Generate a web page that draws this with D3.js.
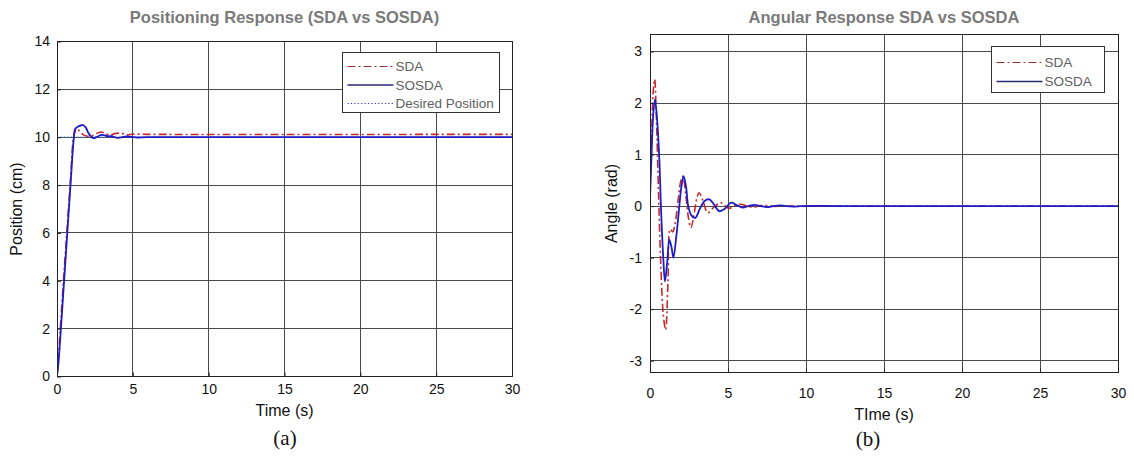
<!DOCTYPE html>
<html><head><meta charset="utf-8">
<script src="https://cdn.jsdelivr.net/npm/d3@7/dist/d3.min.js"></script>
<style>body{margin:0;background:#fff;} svg{display:block;}</style>
</head><body>
<svg id="c" width="1134" height="458"></svg>
<script>
// ---- Data ----
const posTitle = "Positioning Response (SDA vs SOSDA)";
const angTitle = "Angular Response SDA vs SOSDA";
const xTicks = [0,5,10,15,20,25,30];
const posTicks = [0,2,4,6,8,10,12,14];
const angTicks = [-3,-2,-1,0,1,2,3];

const posSdaT = [0,0.1,0.3,0.5,0.7,0.9,1.1,1.3,1.5,1.7,2.0,2.3,2.6,2.9,3.2,3.5,3.8,4.2,4.6,5,6,30];
const posSdaV = [0,0.9,2.8,4.7,6.5,8.3,10.0,10.36,10.25,10.12,10.04,10.05,10.15,10.22,10.15,10.08,10.15,10.17,10.1,10.13,10.12,10.12];
const posSosdaT = [0,0.1,0.3,0.5,0.7,0.9,1.1,1.2,1.4,1.6,1.75,1.9,2.1,2.4,2.65,2.95,3.3,3.6,4.0,4.6,5.2,6,30];
const posSosdaV = [0,0.6,2.4,4.3,6.2,8.1,9.9,10.35,10.45,10.5,10.5,10.4,10.15,9.96,10.02,10.1,10.05,10.04,9.97,10.03,9.99,10.0,10.0];
const desiredT = [0,30];
const desiredV = [10,10];

const angSdaT = [0,0.1,0.2,0.3,0.4,0.55,0.7,0.85,1.0,1.15,1.3,1.45,1.6,1.8,1.95,2.1,2.3,2.45,2.62,2.8,3.0,3.15,3.4,3.7,4.1,4.55,4.8,5.07,5.5,5.9,6.3,6.7,7.1,7.5,8,8.5,9,10,30];
const angSdaV = [0.3,1.3,2.2,2.46,1.8,0.2,-1.2,-2.1,-2.4,-1.5,-0.45,-0.5,-0.35,0.1,0.45,0.58,0.2,-0.2,-0.42,-0.2,0.15,0.26,0.1,-0.13,-0.02,0.065,0.01,-0.045,0.02,0.03,-0.01,-0.02,0.01,0.01,-0.005,0.004,0,0,0];
const angSosdaT = [0,0.1,0.2,0.32,0.45,0.6,0.7,0.85,0.96,1.1,1.24,1.38,1.5,1.7,1.88,2.0,2.15,2.3,2.45,2.65,2.9,3.2,3.5,3.8,4.1,4.45,4.8,5.2,5.55,5.95,6.3,6.7,7.1,7.5,7.9,8.3,8.7,9.2,9.7,10.5,12,30];
const angSosdaV = [0.15,1.0,1.75,2.07,1.7,0.9,0.0,-1.0,-1.46,-1.1,-0.65,-0.8,-1.0,-0.55,0.0,0.35,0.58,0.4,0.0,-0.18,-0.23,-0.05,0.1,0.13,0.03,-0.1,-0.05,0.065,0.02,-0.03,0.0,0.025,0.0,-0.02,0.0,0.015,0,-0.01,0,0.005,0,0];

const redCol = "#c8282a", blueCol = "#1c1cc8";
const svg = d3.select("#c");
const zip = (t,v) => t.map((x,i)=>[x,v[i]]);
const fmt = d => String(d);

function panel(o){
  const x = d3.scaleLinear().domain([0,30]).range([o.x0,o.x1]);
  const y = d3.scaleLinear().domain(o.yd).range([o.y1,o.y0]);
  const g = svg.append("g");
  // grid
  g.selectAll(".gx").data(xTicks.slice(1,-1)).join("line")
    .attr("x1",d=>x(d)).attr("x2",d=>x(d)).attr("y1",o.y0).attr("y2",o.y1)
    .attr("stroke","#4a4a4a").attr("stroke-width",1).attr("shape-rendering","crispEdges");
  g.selectAll(".gy").data(o.yt.filter(d=>y(d)>o.y0+1 && y(d)<o.y1-1)).join("line")
    .attr("x1",o.x0).attr("x2",o.x1).attr("y1",d=>y(d)).attr("y2",d=>y(d))
    .attr("stroke","#4a4a4a").attr("stroke-width",1).attr("shape-rendering","crispEdges");
  // clip
  const cid = "clip"+o.id;
  svg.append("clipPath").attr("id",cid).append("rect")
    .attr("x",o.x0).attr("y",o.y0).attr("width",o.x1-o.x0).attr("height",o.y1-o.y0);
  const lg = g.append("g").attr("clip-path",`url(#${cid})`);
  const line = d3.line().x(d=>x(d[0])).y(d=>y(d[1])).curve(d3.curveCatmullRom.alpha(0.5));
  o.series.forEach(s=>{
    lg.append("path").attr("d",line(zip(s.t,s.v))).attr("fill","none")
      .attr("stroke",s.c).attr("stroke-width",s.w).attr("stroke-dasharray",s.dash||null);
  });
  // box
  g.append("rect").attr("x",o.x0).attr("y",o.y0).attr("width",o.x1-o.x0).attr("height",o.y1-o.y0)
    .attr("fill","none").attr("stroke","#222").attr("stroke-width",1).attr("shape-rendering","crispEdges");
  // axes (ticks inward, labels)
  const ax = g.append("g").attr("transform",`translate(0,${o.y1})`)
    .call(d3.axisBottom(x).tickValues(xTicks).tickFormat(fmt).tickSizeInner(-4).tickSizeOuter(0).tickPadding(o.xpad));
  const ay = g.append("g").attr("transform",`translate(${o.x0},0)`)
    .call(d3.axisLeft(y).tickValues(o.yt).tickFormat(fmt).tickSizeInner(-4).tickSizeOuter(0).tickPadding(o.ypad));
  [ax,ay].forEach(a=>{
    a.select(".domain").remove();
    a.selectAll("line").attr("stroke","#222");
    a.selectAll("text").attr("font-family","Liberation Sans, Arial, sans-serif").attr("font-size",14).attr("fill","#111");
  });
  // title
  g.append("text").attr("x",(o.x0+o.x1)/2).attr("y",23).attr("text-anchor","middle")
    .attr("font-family","Liberation Sans, Arial, sans-serif").attr("font-size",16.5).attr("font-weight","bold")
    .attr("fill","#7a7a7a").text(o.title);
  // x label
  g.append("text").attr("x",(o.x0+o.x1)/2).attr("y",o.xly).attr("text-anchor","middle")
    .attr("font-family","Liberation Sans, Arial, sans-serif").attr("font-size",16).attr("fill","#111").text(o.xlabel);
  // y label
  g.append("text").attr("transform",`translate(${o.ylx},${(o.y0+o.y1)/2}) rotate(-90)`).attr("text-anchor","middle")
    .attr("font-family","Liberation Sans, Arial, sans-serif").attr("font-size",16).attr("fill","#111").text(o.ylabel);
  // caption
  g.append("text").attr("x",o.capx).attr("y",o.capy).attr("text-anchor","middle")
    .attr("font-family","Liberation Serif, Times New Roman, serif").attr("font-size",21).attr("fill","#111").text(o.cap);
  // legend
  const L = o.leg;
  const lgd = g.append("g");
  lgd.append("rect").attr("x",L.x).attr("y",L.y).attr("width",L.w).attr("height",L.h)
    .attr("fill","#fff").attr("stroke","#333").attr("stroke-width",1).attr("shape-rendering","crispEdges");
  L.items.forEach((it,i)=>{
    const yy = L.y + L.first + i*L.step;
    lgd.append("line").attr("x1",L.x+5).attr("x2",L.x+51).attr("y1",yy).attr("y2",yy)
      .attr("stroke",it.c).attr("stroke-width",it.w).attr("stroke-dasharray",it.dash||null);
    lgd.append("text").attr("x",L.x+53).attr("y",yy).attr("dy","0.35em")
      .attr("font-family","Liberation Sans, Arial, sans-serif").attr("font-size",13.5).attr("fill","#606060").text(it.name);
  });
}

const sdaDash = "8,3,2,3", dotDash = "1.2,2.2";
panel({id:"a", x0:57, x1:512, y0:41.5, y1:376.5, yd:[0,14], yt:posTicks, xpad:8, ypad:7,
  title:posTitle, xlabel:"Time (s)", ylabel:"Position (cm)", xly:416, ylx:22, cap:"(a)", capx:285, capy:445,
  series:[
    {t:desiredT, v:desiredV, c:"#3a6ad8", w:1.5, dash:dotDash},
    {t:posSdaT, v:posSdaV, c:redCol, w:1.6, dash:sdaDash},
    {t:posSosdaT, v:posSosdaV, c:blueCol, w:1.8}
  ],
  leg:{x:342.5, y:52.5, w:157, h:60, first:14, step:18.5, items:[
    {name:"SDA", c:"#a03434", w:1.2, dash:sdaDash},
    {name:"SOSDA", c:"#2a2a7a", w:1.4},
    {name:"Desired Position", c:"#2a3ab0", w:1.2, dash:dotDash}
  ]}
});
panel({id:"b", x0:650, x1:1118, y0:34.5, y1:372.5, yd:[-3.23,3.33], yt:angTicks, xpad:16, ypad:8,
  title:angTitle, xlabel:"TIme (s)", ylabel:"Angle (rad)", xly:420, ylx:617, cap:"(b)", capx:868, capy:446,
  series:[
    {t:angSdaT, v:angSdaV, c:redCol, w:1.6, dash:sdaDash},
    {t:angSosdaT, v:angSosdaV, c:blueCol, w:1.8}
  ],
  leg:{x:991.5, y:46.5, w:113, h:46, first:16, step:19, items:[
    {name:"SDA", c:"#a03434", w:1.2, dash:sdaDash},
    {name:"SOSDA", c:"#2a2a7a", w:1.4}
  ]}
});
</script>
</body></html>
